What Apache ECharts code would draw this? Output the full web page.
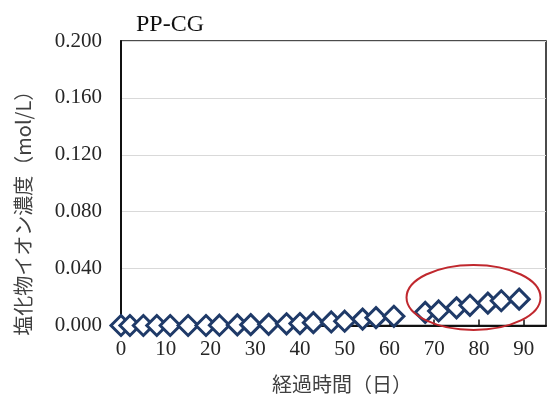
<!DOCTYPE html>
<html>
<head>
<meta charset="utf-8">
<script src="https://cdn.jsdelivr.net/npm/echarts@6/dist/echarts.min.js"></script>
<style>
  html, body { margin: 0; padding: 0; background: #fff; }
  #myChart { width: 549px; height: 401px; }
</style>
</head>
<body>
<div id="myChart"></div>
<script>
// 経過日数と塩化物イオン濃度
var days = [0, 2, 5, 8, 11, 15, 19, 22, 26, 29, 33, 37, 40, 43, 47, 50, 54, 57, 61, 68, 71, 75, 78, 82, 85, 89];
var chloride = [0, 0, 0, 0, 0, 0, 0, 0.0002, 0.0004, 0.0006, 0.0008, 0.0012, 0.0014, 0.002, 0.0025, 0.003,
                0.0045, 0.0055, 0.0065, 0.0092, 0.0102, 0.0124, 0.0142, 0.0157, 0.0174, 0.0185];
var xTicks = [0, 10, 20, 30, 40, 50, 60, 70, 80, 90];
var yTicks = [0, 0.04, 0.08, 0.12, 0.16, 0.2];

var points = days.map(function (d, i) { return [d, chloride[i]]; });

var myChart = echarts.init(document.getElementById("myChart"));
var serif = "'Liberation Serif', 'Times New Roman', serif";
var cjk = "'Noto Sans CJK JP', sans-serif";

myChart.setOption({
    animation: false,
    title: {
        text: "PP-CG",
        left: 131,
        top: 8,
        textStyle: { fontFamily: serif, fontSize: 24, fontWeight: "normal", color: "#111" }
    },
    grid: {
        left: 121,
        right: 3,
        top: 41,
        bottom: 75.5,
        show: true,
        borderColor: "#111",
        borderWidth: 1.5,
        containLabel: false
    },
    xAxis: {
        type: "value",
        min: xTicks[0],
        max: 95,
        interval: 10,
        name: "経過時間（日）",
        nameLocation: "middle",
        nameGap: 49,
        nameTextStyle: { fontFamily: cjk, fontSize: 20, color: "#404040", padding: [0, 0, 0, 17] },
        axisLine: { lineStyle: { color: "#111", width: 2 } },
        axisTick: { show: true, inside: true, length: 6, lineStyle: { color: "#111", width: 1.5 } },
        axisLabel: {
            margin: 13,
            fontFamily: serif,
            fontSize: 21,
            color: "#262626",
            showMaxLabel: false,
            formatter: function (v) { return xTicks.indexOf(v) >= 0 ? String(v) : ""; }
        },
        splitLine: { show: false }
    },
    yAxis: {
        type: "value",
        min: yTicks[0],
        max: yTicks[yTicks.length - 1],
        interval: 0.04,
        name: "塩化物イオン濃度（mol/L）",
        nameLocation: "middle",
        nameGap: 88,
        nameRotate: 90,
        nameTextStyle: { fontFamily: cjk, fontSize: 20, color: "#404040", padding: [0, 50, 0, 0] },
        axisLine: { show: true, lineStyle: { color: "#111", width: 2 } },
        axisTick: { show: false },
        axisLabel: {
            margin: 19,
            fontFamily: serif,
            fontSize: 21,
            color: "#262626",
            formatter: function (v) { return v.toFixed(3); }
        },
        splitLine: { show: true, lineStyle: { color: "#D9D9D9", width: 1 } }
    },
    series: [
        {
            name: "PP-CG",
            type: "scatter",
            symbol: "diamond",
            symbolSize: 20,
            clip: false,
            itemStyle: { color: "#fff", borderColor: "#1F3A68", borderWidth: 3, opacity: 1 },
            data: points
        }
    ]
});

// 赤い楕円 (注記)
var c = myChart.convertToPixel({ gridIndex: 0 }, [78.8, 0.0197]);
myChart.setOption({
    graphic: [
        {
            type: "ellipse",
            z: 100,
            shape: { cx: c[0], cy: c[1], rx: 67, ry: 32.5 },
            style: { fill: "none", stroke: "#C0282E", lineWidth: 2 }
        }
    ]
});
</script>
</body>
</html>
